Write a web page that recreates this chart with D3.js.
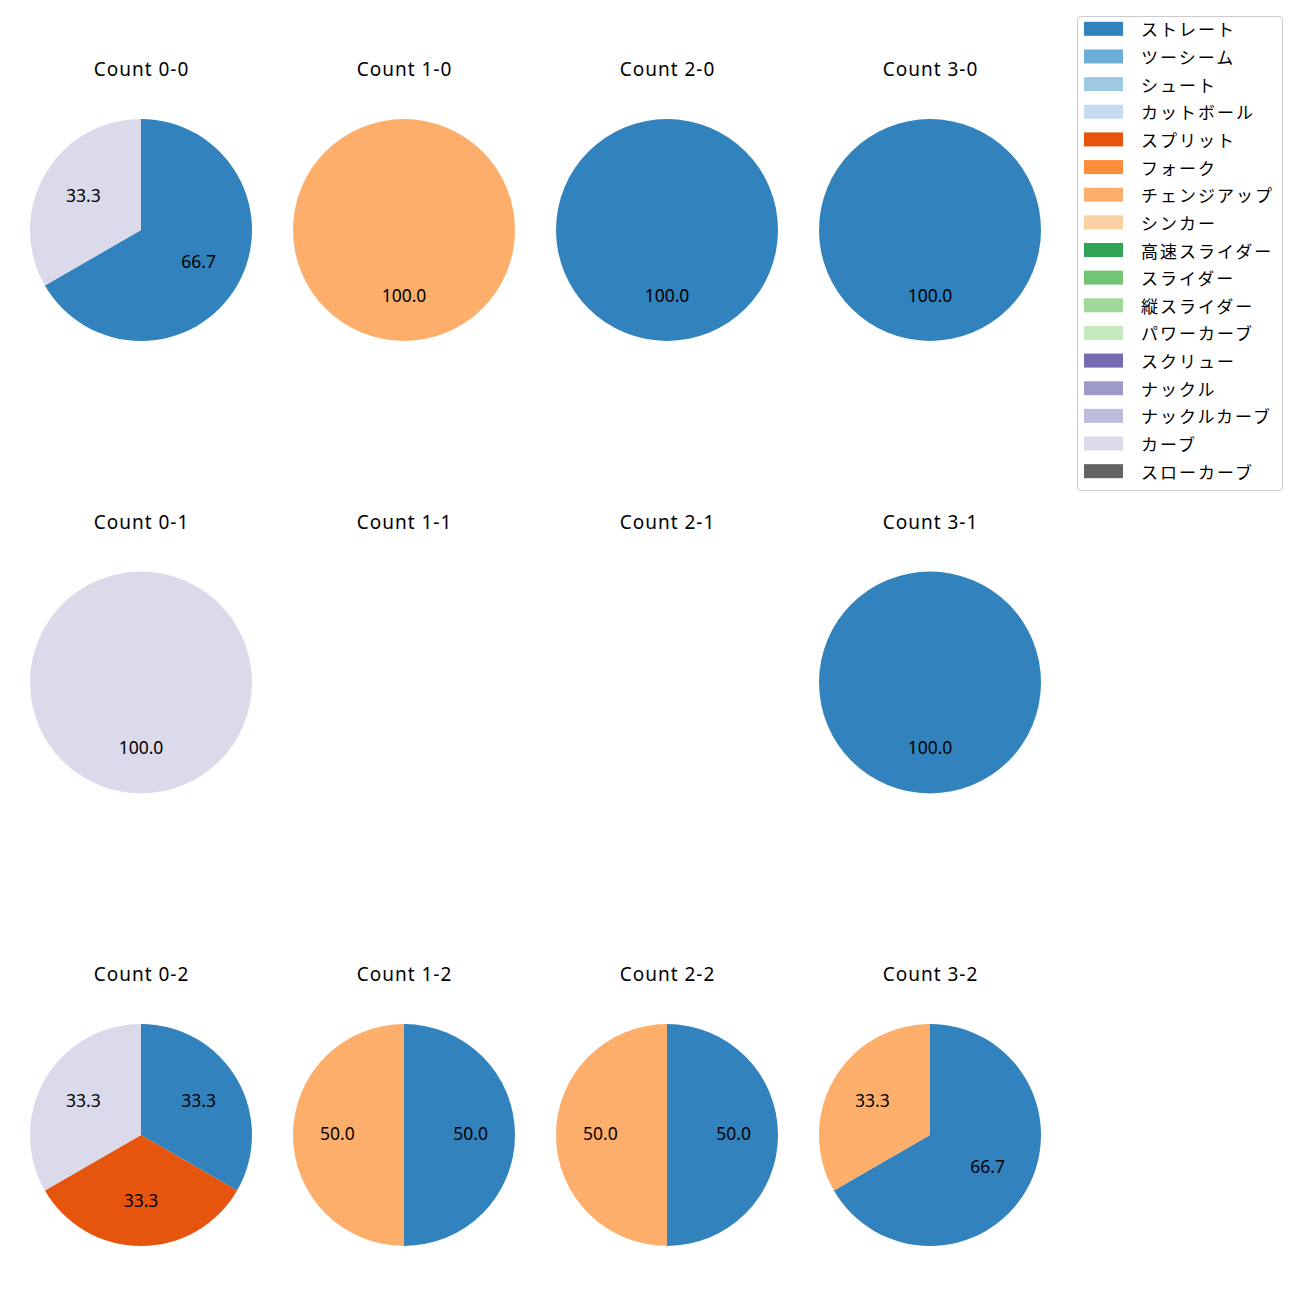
<!DOCTYPE html>
<html><head><meta charset="utf-8">
<script src="https://cdn.jsdelivr.net/npm/d3@7"></script>
<style>body{margin:0;background:#fff;} svg{display:block;font-family:"Noto Sans","Noto Sans CJK JP",sans-serif;}</style>
</head><body>
<script>
const pitchTypes = ["ストレート","ツーシーム","シュート","カットボール","スプリット","フォーク","チェンジアップ","シンカー","高速スライダー","スライダー","縦スライダー","パワーカーブ","スクリュー","ナックル","ナックルカーブ","カーブ","スローカーブ"];
const pitchColors = ["#3182bd","#6baed6","#9ecae1","#c6dbef","#e6550d","#fd8d3c","#fdae6b","#fdd0a2","#31a354","#74c476","#a1d99b","#c7e9c0","#756bb1","#9e9ac8","#bcbddc","#dadaeb","#636363"];
const balls = [0,1,2,3];
const strikes = [0,1,2];
// counts per pitch type (order as pitchTypes), keyed "balls-strikes"
const count00 = [2,0,0,0,0,0,0,0,0,0,0,0,0,0,0,1,0];
const count10 = [0,0,0,0,0,0,1,0,0,0,0,0,0,0,0,0,0];
const count20 = [1,0,0,0,0,0,0,0,0,0,0,0,0,0,0,0,0];
const count30 = [1,0,0,0,0,0,0,0,0,0,0,0,0,0,0,0,0];
const count01 = [0,0,0,0,0,0,0,0,0,0,0,0,0,0,0,1,0];
const count11 = [0,0,0,0,0,0,0,0,0,0,0,0,0,0,0,0,0];
const count21 = [0,0,0,0,0,0,0,0,0,0,0,0,0,0,0,0,0];
const count31 = [1,0,0,0,0,0,0,0,0,0,0,0,0,0,0,0,0];
const count02 = [1,0,0,0,1,0,0,0,0,0,0,0,0,0,0,1,0];
const count12 = [1,0,0,0,0,0,1,0,0,0,0,0,0,0,0,0,0];
const count22 = [1,0,0,0,0,0,1,0,0,0,0,0,0,0,0,0,0];
const count32 = [2,0,0,0,0,0,1,0,0,0,0,0,0,0,0,0,0];
const countData = {
  "0-0":count00,"1-0":count10,"2-0":count20,"3-0":count30,
  "0-1":count01,"1-1":count11,"2-1":count21,"3-1":count31,
  "0-2":count02,"1-2":count12,"2-2":count22,"3-2":count32
};

const W = 1300, H = 1300;
const svg = d3.select("body").append("svg").attr("width",W).attr("height",H);
const color = d3.scaleOrdinal().domain(pitchTypes).range(pitchColors);
const xCenter = d3.scaleLinear().domain([0,3]).range([141,930]);
const yCenter = d3.scaleLinear().domain([0,2]).range([230,1135]);
const R = 111;
const arc = d3.arc().innerRadius(0).outerRadius(R);
const labelArc = d3.arc().innerRadius(R*0.6).outerRadius(R*0.6);
const pie = d3.pie().sort(null).value(d=>d.v).startAngle(0).endAngle(2*Math.PI);

strikes.forEach(s=>{
  balls.forEach(b=>{
    const key = b+"-"+s;
    const vals = countData[key];
    const cx = xCenter(b), cy = yCenter(s);
    svg.append("text").attr("x",cx+0.5).attr("y",cy-161)
      .attr("text-anchor","middle").attr("dominant-baseline","central")
      .attr("font-size",19).attr("letter-spacing",1).attr("fill","#000").text("Count "+key);
    const items = pitchTypes.map((p,i)=>({p, v: vals[i]})).filter(d=>d.v>0);
    if(!items.length) return;
    const total = d3.sum(items,d=>d.v);
    const g = svg.append("g").attr("transform",`translate(${cx},${cy})`);
    const arcs = pie(items);
    g.selectAll("path").data(arcs).join("path").attr("d",arc).attr("fill",d=>color(d.data.p));
    g.selectAll("text").data(arcs).join("text")
      .attr("transform",d=>{const c=labelArc.centroid(d);return `translate(${c[0]},${c[1]-2})`;})
      .attr("text-anchor","middle").attr("dominant-baseline","central")
      .attr("font-size",17.5).attr("fill","#000")
      .text(d=>(d.data.v/total*100).toFixed(1));
  });
});

// legend
const lg = svg.append("g");
lg.append("rect").attr("x",1077.5).attr("y",16.5).attr("width",205).attr("height",474)
  .attr("rx",3).attr("fill","#fff").attr("stroke","#cccccc").attr("stroke-width",1);
const ly = d3.scaleBand().domain(pitchTypes).range([15,485]);
pitchTypes.forEach(p=>{
  const y = ly(p)+ly.bandwidth()/2;
  lg.append("rect").attr("x",1084).attr("y",y-7).attr("width",39).attr("height",14).attr("fill",color(p));
  lg.append("text").attr("x",1141).attr("y",y).attr("dominant-baseline","central")
    .attr("font-family","Noto Sans CJK JP").attr("font-size",17).attr("letter-spacing",2)
    .attr("fill","#000").text(p);
});
</script>
</body></html>
